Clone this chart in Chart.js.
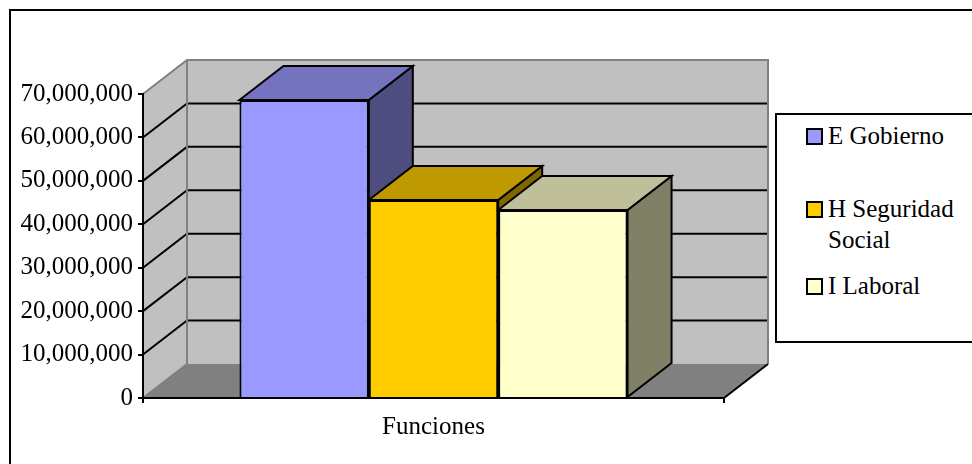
<!DOCTYPE html>
<html>
<head>
<meta charset="utf-8">
<script src="https://cdn.jsdelivr.net/npm/chart.js@4"></script>
<style>
  html, body { margin: 0; padding: 0; background: #fff; overflow: hidden; }
  #wrap { position: relative; width: 972px; height: 464px; overflow: hidden; font-family: 'Liberation Serif', serif; color: #000; }
  #frame { position: absolute; left: 9px; top: 9px; width: 1000px; height: 500px; border: 2px solid #000; }
  canvas { position: absolute; left: 0; top: 0; }
  #legend { position: absolute; left: 775px; top: 113px; width: 300px; height: 226px; border: 2px solid #000; background: #fff; }
  .item { position: absolute; left: 51px; font-size: 25px; line-height: 31px; white-space: pre-line; width: 140px; }
  .item i { position: absolute; left: -22px; top: 8px; width: 13px; height: 13px; border: 2px solid #000; }
  .item:nth-child(1) { top: 5px; }
  .item:nth-child(2) { top: 78px; }
  .item:nth-child(3) { top: 155px; }
</style>
</head>
<body>
<div id="wrap">
  <div id="frame"></div>
  <canvas id="chart" width="972" height="464"></canvas>
  <div id="legend"></div>
</div>
<script>
const categories = ['Funciones'];
const seriesNames = ['E Gobierno', 'H Seguridad\nSocial', 'I Laboral'];
const gobierno = [68600000];
const seguridad = [45600000];
const laboral = [43300000];
const yTicksMax = 70000000;
const yTicksStep = 10000000;

// front, top and side faces of each bar
const fronts = ['#9999FF', '#FFCC00', '#FFFFCC'];
const tops = ['#7373BF', '#BF9900', '#BFBF99'];
const sides = ['#4D4D80', '#806600', '#808066'];

// how far the back wall sits from the axes
const depthX = 44;
const depthY = -34;
const fontSerif = { family: "'Liberation Serif', serif", size: 25 };

function poly(ctx, pts, fill, stroke, width) {
  ctx.beginPath();
  pts.forEach((p, i) => (i ? ctx.lineTo(p[0], p[1]) : ctx.moveTo(p[0], p[1])));
  ctx.closePath();
  if (fill) { ctx.fillStyle = fill; ctx.fill(); }
  if (stroke) { ctx.strokeStyle = stroke; ctx.lineWidth = width; ctx.lineJoin = 'miter'; ctx.stroke(); }
}

function line(ctx, pts, color, width) {
  ctx.beginPath();
  pts.forEach((p, i) => (i ? ctx.lineTo(p[0], p[1]) : ctx.moveTo(p[0], p[1])));
  ctx.strokeStyle = color;
  ctx.lineWidth = width;
  ctx.stroke();
}

// Walls, floor and the gridlines that run over them
const box3d = {
  id: 'box3d',
  beforeDraw(chart) {
    const { ctx, scales: { x, y } } = chart;
    const l = x.left, r = x.right, b = y.bottom, t = y.top;
    ctx.save();
    poly(ctx, [[l + depthX, t + depthY], [r + depthX, t + depthY], [r + depthX, b + depthY], [l + depthX, b + depthY]], '#C0C0C0');
    poly(ctx, [[l, t], [l + depthX, t + depthY], [l + depthX, b + depthY], [l, b]], '#C0C0C0');
    poly(ctx, [[l, b], [r, b], [r + depthX, b + depthY], [l + depthX, b + depthY]], '#808080');
    y.ticks.forEach((tick) => {
      if (tick.value === 0 || tick.value === yTicksMax) return;
      const py = y.getPixelForValue(tick.value);
      line(ctx, [[l, py], [l + depthX, py + depthY], [r + depthX - 1, py + depthY]], '#000', 2);
    });
    line(ctx, [[l, t], [l + depthX, t + depthY], [r + depthX, t + depthY], [r + depthX, b + depthY]], '#808080', 2);
    line(ctx, [[l + depthX, t + depthY], [l + depthX, b + depthY], [l, b]], '#808080', 2);
    line(ctx, [[r, b], [r + depthX, b + depthY]], '#000', 2);
    ctx.restore();
  },
  // tops and sides go left to right so nearer bars paint over farther ones
  beforeDatasetsDraw(chart) {
    const { ctx } = chart;
    ctx.save();
    chart.data.datasets.forEach((ds, i) => {
      const bar = chart.getDatasetMeta(i).data[0];
      const x0 = bar.x - bar.width / 2, x1 = bar.x + bar.width / 2;
      const yt = bar.y, yb = bar.base;
      poly(ctx, [[x1, yt], [x1 + depthX, yt + depthY], [x1 + depthX, yb + depthY], [x1, yb]], sides[i], '#000', 2);
      poly(ctx, [[x0, yt], [x0 + depthX, yt + depthY], [x1 + depthX, yt + depthY], [x1, yt]], tops[i], '#000', 2);
    });
    ctx.restore();
  }
};

new Chart(document.getElementById('chart'), {
  type: 'bar',
  plugins: [box3d],
  data: {
    labels: categories,
    datasets: [gobierno, seguridad, laboral].map((values, i) => ({
      label: seriesNames[i].replace('\n', ' '),
      data: values,
      backgroundColor: fronts[i],
      borderColor: '#000',
      borderWidth: 2,
      categoryPercentage: 0.668,
      barPercentage: 1
    }))
  },
  options: {
    responsive: false,
    animation: false,
    layout: { padding: { top: 94, right: 248, bottom: 0, left: 0 } },
    plugins: { legend: { display: false }, tooltip: { enabled: false } },
    scales: {
      x: {
        afterFit(scale) { scale.height = 66; },
        grid: { drawOnChartArea: false, color: '#000', lineWidth: 2, tickLength: 5 },
        border: { color: '#000', width: 2 },
        ticks: { color: '#000', font: fontSerif, padding: 9, maxRotation: 0 }
      },
      y: {
        min: 0,
        max: yTicksMax,
        afterFit(scale) { scale.width = 143; },
        grid: { drawOnChartArea: false, color: '#000', lineWidth: 2, tickLength: 5 },
        border: { color: '#000', width: 2 },
        ticks: {
          stepSize: yTicksStep,
          color: '#000',
          font: fontSerif,
          padding: 5,
          callback: (v) => v.toLocaleString('en-US')
        }
      }
    }
  }
});

// Legend box, the long name wraps in two lines like the original
const legend = document.getElementById('legend');
seriesNames.forEach((name, i) => {
  const item = document.createElement('div');
  item.className = 'item';
  item.textContent = name;
  const swatch = document.createElement('i');
  swatch.style.background = fronts[i];
  item.appendChild(swatch);
  legend.appendChild(item);
});
</script>
</body>
</html>
